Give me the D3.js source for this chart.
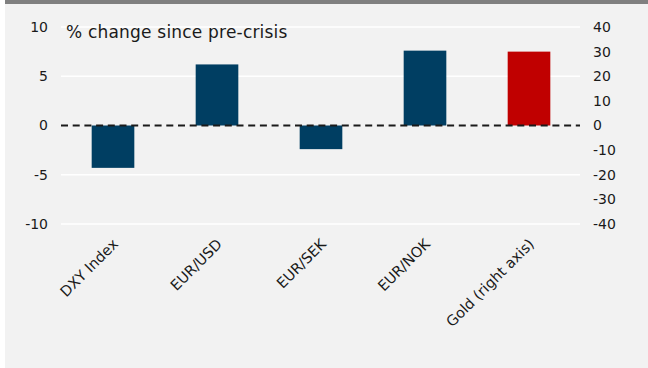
<!DOCTYPE html>
<html>
<head>
<meta charset="utf-8">
<script src="https://cdn.jsdelivr.net/npm/d3@7"></script>
<style>
  html, body { margin: 0; padding: 0; background: #ffffff; }
  svg { display: block; }
  text { font-family: "DejaVu Sans", sans-serif; fill: #1a1a1a; }
</style>
</head>
<body>
<svg id="chart" width="648" height="368"></svg>
<script>
// Percentage change since the pre-crisis level
const categories = ["DXY Index", "EUR/USD", "EUR/SEK", "EUR/NOK", "Gold (right axis)"];
const leftValues = [-4.3, 6.2, -2.4, 7.6, null];   // left axis, %
const rightValues = [null, null, null, null, 30];  // right axis, %
const leftTicks = [10, 5, 0, -5, -10];
const rightTicks = [40, 30, 20, 10, 0, -10, -20, -30, -40];
const gridTicks = [10, 5, -5, -10];
const titleText = "% change since pre-crisis";

const svg = d3.select("#chart");
const W = 648, H = 368;
const plot = { left: 61, right: 581, top: 27, bottom: 224 };
const fmt = d => String(d); // plain hyphen for negatives

// panel background with grey top rule
svg.append("rect").attr("x", 5).attr("y", 0).attr("width", W - 5).attr("height", H)
  .attr("fill", "#f2f2f2");
svg.append("rect").attr("x", 5).attr("y", 0).attr("width", W - 5).attr("height", 4)
  .attr("fill", "#808080");

const x = d3.scaleBand().domain(categories)
  .range([plot.left, plot.right]).paddingInner(0.59).paddingOuter(0.295);
const yL = d3.scaleLinear().domain([-10, 10]).range([plot.bottom, plot.top]);
const yR = d3.scaleLinear().domain([-40, 40]).range([plot.bottom, plot.top]);

// horizontal gridlines
svg.append("g").selectAll("line").data(gridTicks).join("line")
  .attr("x1", plot.left).attr("x2", 580)
  .attr("y1", d => yL(d)).attr("y2", d => yL(d))
  .attr("stroke", "#ffffff").attr("stroke-width", 1.5);

// left axis labels
const axisL = d3.axisLeft(yL).tickValues(leftTicks).tickSize(0).tickPadding(0).tickFormat(fmt);
const gL = svg.append("g").attr("transform", "translate(48,0)").call(axisL);
gL.select(".domain").remove();
gL.selectAll("text").style("font-family", "'DejaVu Sans', sans-serif").style("font-size", "14px")
  .attr("fill", "#1a1a1a");

// right axis labels
const axisR = d3.axisRight(yR).tickValues(rightTicks).tickSize(0).tickPadding(0).tickFormat(fmt);
const gR = svg.append("g").attr("transform", "translate(593,0)").call(axisR);
gR.select(".domain").remove();
gR.selectAll("text").style("font-family", "'DejaVu Sans', sans-serif").style("font-size", "14px")
  .attr("fill", "#1a1a1a");

// bars on the left axis
svg.append("g").selectAll("rect")
  .data(categories.map((c, i) => ({ c, v: leftValues[i] })).filter(d => d.v !== null))
  .join("rect")
  .attr("x", d => x(d.c)).attr("width", x.bandwidth())
  .attr("y", d => yL(Math.max(0, d.v)))
  .attr("height", d => Math.abs(yL(d.v) - yL(0)))
  .attr("fill", "#003e62");

// bars on the right axis
svg.append("g").selectAll("rect")
  .data(categories.map((c, i) => ({ c, v: rightValues[i] })).filter(d => d.v !== null))
  .join("rect")
  .attr("x", d => x(d.c)).attr("width", x.bandwidth())
  .attr("y", d => yR(Math.max(0, d.v)))
  .attr("height", d => Math.abs(yR(d.v) - yR(0)))
  .attr("fill", "#c00000");

// dashed zero line
svg.append("line")
  .attr("x1", plot.left).attr("x2", 580)
  .attr("y1", yL(0)).attr("y2", yL(0))
  .attr("stroke", "#1a1a1a").attr("stroke-width", 2)
  .attr("stroke-dasharray", "7,4.7");

// title
svg.append("text").attr("x", 66).attr("y", 38)
  .style("font-size", "17px").style("letter-spacing", "0.2px").text(titleText);

// rotated category labels
svg.append("g").selectAll("text").data(categories).join("text")
  .attr("transform", d => `translate(${x(d) + x.bandwidth() / 2 + 6},${245}) rotate(-45)`)
  .attr("text-anchor", "end")
  .style("font-size", "14.5px")
  .text(d => d);
</script>
</body>
</html>
